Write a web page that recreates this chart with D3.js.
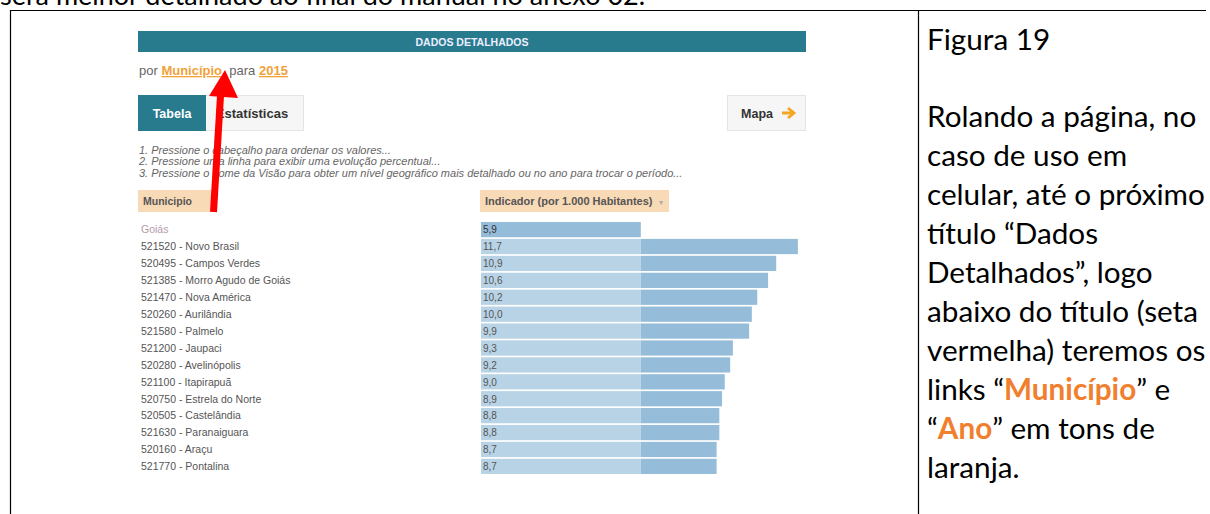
<!DOCTYPE html>
<html><head><meta charset="utf-8">
<script src="https://cdn.jsdelivr.net/npm/d3@7"></script>
<style>
html,body{margin:0;padding:0;background:#fff;}
svg{display:block;}
</style></head>
<body>
<svg id="c" width="1210" height="514"></svg>
<script>
// ---- data ----
const categories = ["Goiás","521520 - Novo Brasil","520495 - Campos Verdes","521385 - Morro Agudo de Goiás","521470 - Nova América","520260 - Aurilândia","521580 - Palmelo","521200 - Jaupaci","520280 - Avelinópolis","521100 - Itapirapuã","520750 - Estrela do Norte","520505 - Castelândia","521630 - Paranaiguara","520160 - Araçu","521770 - Pontalina"];
const values = [5.9,11.7,10.9,10.6,10.2,10.0,9.9,9.3,9.2,9.0,8.9,8.8,8.8,8.7,8.7];
const instructions = ["1. Pressione o cabeçalho para ordenar os valores...","2. Pressione uma linha para exibir uma evolução percentual...","3. Pressione o nome da Visão para obter um nível geográfico mais detalhado ou no ano para trocar o período..."];
const sideLines = [
  [["Rolando a página, no",0]],
  [["caso de uso em",0]],
  [["celular, até o próximo",0]],
  [["título “Dados",0]],
  [["Detalhados”, logo",0]],
  [["abaixo do título (seta",0]],
  [["vermelha) teremos os",0]],
  [["links “",0],["Município",1],["” e",0]],
  [["“",0],["Ano",1],["” em tons de",0]],
  [["laranja.",0]]
];

const svg = d3.select("#c");
svg.append("rect").attr("width",1210).attr("height",514).attr("fill","#fff");

// document text cut at top
svg.append("text").attr("x",0).attr("y",5).attr("font-family","Lato").attr("font-size",27)
  .attr("fill","#000").text("será melhor detalhado ao final do manual no anexo 02.");

// table borders
svg.append("line").attr("x1",10).attr("x2",1206).attr("y1",10.5).attr("y2",10.5).attr("stroke","#000").attr("stroke-width",1.2);
svg.append("line").attr("x1",10.5).attr("x2",10.5).attr("y1",10).attr("y2",514).attr("stroke","#000").attr("stroke-width",1.2);
svg.append("line").attr("x1",918.5).attr("x2",918.5).attr("y1",10).attr("y2",514).attr("stroke","#000").attr("stroke-width",1.2);

// right column text
const side = svg.append("g").attr("font-family","Lato").attr("font-size",29.7).attr("fill","#000");
side.append("text").attr("x",927).attr("y",50).text("Figura 19");
sideLines.forEach((parts,i)=>{
  const t = side.append("text").attr("x",927).attr("y",127+i*39);
  parts.forEach(([s,o])=>{
    t.append("tspan").text(s).attr("fill",o?"#f07f2e":"#000").attr("font-weight",o?"bold":"normal");
  });
});

// embedded screenshot
const g = svg.append("g").attr("font-family","Liberation Sans, Arial, sans-serif");
const teal = "#277b8d";
g.append("rect").attr("x",138).attr("y",31).attr("width",668).attr("height",21).attr("fill",teal);
g.append("text").attr("x",472).attr("y",45.5).attr("text-anchor","middle").attr("fill","#eef")
  .attr("font-size",10.5).attr("font-weight","bold").text("DADOS DETALHADOS");

const por = g.append("text").attr("x",139).attr("y",75).attr("font-size",13).attr("fill","#666");
por.append("tspan").text("por ");
por.append("tspan").text("Município").attr("fill","#f0a13a").attr("font-weight","bold").attr("text-decoration","underline");
por.append("tspan").text(", para ");
por.append("tspan").text("2015").attr("fill","#f0a13a").attr("font-weight","bold").attr("text-decoration","underline");

// buttons
g.append("rect").attr("x",205.5).attr("y",95.5).attr("width",98).attr("height",35).attr("fill","#f6f6f6").attr("stroke","#e4e4e4");
g.append("text").attr("x",252).attr("y",117.5).attr("text-anchor","middle").attr("font-size",13).attr("font-weight","bold").attr("fill","#333").text("Estatísticas");
g.append("rect").attr("x",138).attr("y",95).attr("width",68).attr("height",36).attr("fill",teal);
g.append("text").attr("x",172).attr("y",117.5).attr("text-anchor","middle").attr("font-size",12.5).attr("font-weight","bold").attr("fill","#fff").text("Tabela");
g.append("rect").attr("x",727.5).attr("y",95.5).attr("width",78).attr("height",35).attr("fill","#f6f6f6").attr("stroke","#e4e4e4");
g.append("text").attr("x",757).attr("y",117.5).attr("text-anchor","middle").attr("font-size",12.5).attr("font-weight","bold").attr("fill","#333").text("Mapa");
g.append("path").attr("d","M782,113 H793 M788,108 L794,113 L788,118").attr("fill","none").attr("stroke","#f5a623").attr("stroke-width",2.8);

// instructions
instructions.forEach((s,i)=>{
  g.append("text").attr("x",139).attr("y",154+i*11.3).attr("font-size",11).attr("font-style","italic").attr("fill","#666").text(s);
});

// column headers
const peach = "#f9dab6";
g.append("rect").attr("x",138).attr("y",190).attr("width",74).attr("height",22).attr("fill",peach);
g.append("text").attr("x",143).attr("y",205).attr("font-size",10.5).attr("font-weight","bold").attr("fill","#555").text("Municipio");
g.append("rect").attr("x",480).attr("y",190).attr("width",189).attr("height",22).attr("fill",peach);
g.append("text").attr("x",485).attr("y",205).attr("font-size",11).attr("font-weight","bold").attr("fill","#555").text("Indicador (por 1.000 Habitantes)");
g.append("text").attr("x",659).attr("y",205).attr("font-size",8).attr("fill","#aaa").text("▾");

// scales
const y = d3.scaleBand().domain(categories).range([222,474]).paddingInner(0.1).paddingOuter(0);
const x = d3.scaleLinear().domain([0,12]).range([481,806]);
const ref = values[0];
const fmt = v => d3.format(".1f")(v).replace(".",",");

const rows = g.append("g").selectAll("g").data(categories).join("g");
rows.append("rect")
  .attr("x",x(0)).attr("y",d=>y(d)).attr("height",y.bandwidth())
  .attr("width",(d,i)=> i===0 ? x(values[i])-x(0) : x(Math.min(values[i],ref))-x(0))
  .attr("fill",(d,i)=> i===0 ? "#95bcd9" : "#b8d3e6");
rows.filter((d,i)=>i>0 && values[i]>ref).append("rect")
  .attr("x",x(ref)).attr("y",d=>y(d)).attr("height",y.bandwidth())
  .attr("width",d=>x(values[categories.indexOf(d)])-x(ref))
  .attr("fill","#95bcd9");
rows.append("text").attr("x",483).attr("y",d=>y(d)+y.bandwidth()/2+3.8)
  .attr("font-size",10).attr("fill",(d,i)=>i===0?"#333":"#555").text((d,i)=>fmt(values[i]));
rows.append("text").attr("x",141).attr("y",d=>y(d)+y.bandwidth()/2+3.8)
  .attr("font-size",10.5).attr("fill",(d,i)=>i===0?"#b79aab":"#555").text(d=>d);

// red arrow
svg.append("path").attr("d","M213.5,212 L220.5,96").attr("stroke","#f00").attr("stroke-width",7).attr("fill","none");
svg.append("path").attr("d","M225,70 L238,98 L209,96 Z").attr("fill","#f00");
</script>
</body></html>
